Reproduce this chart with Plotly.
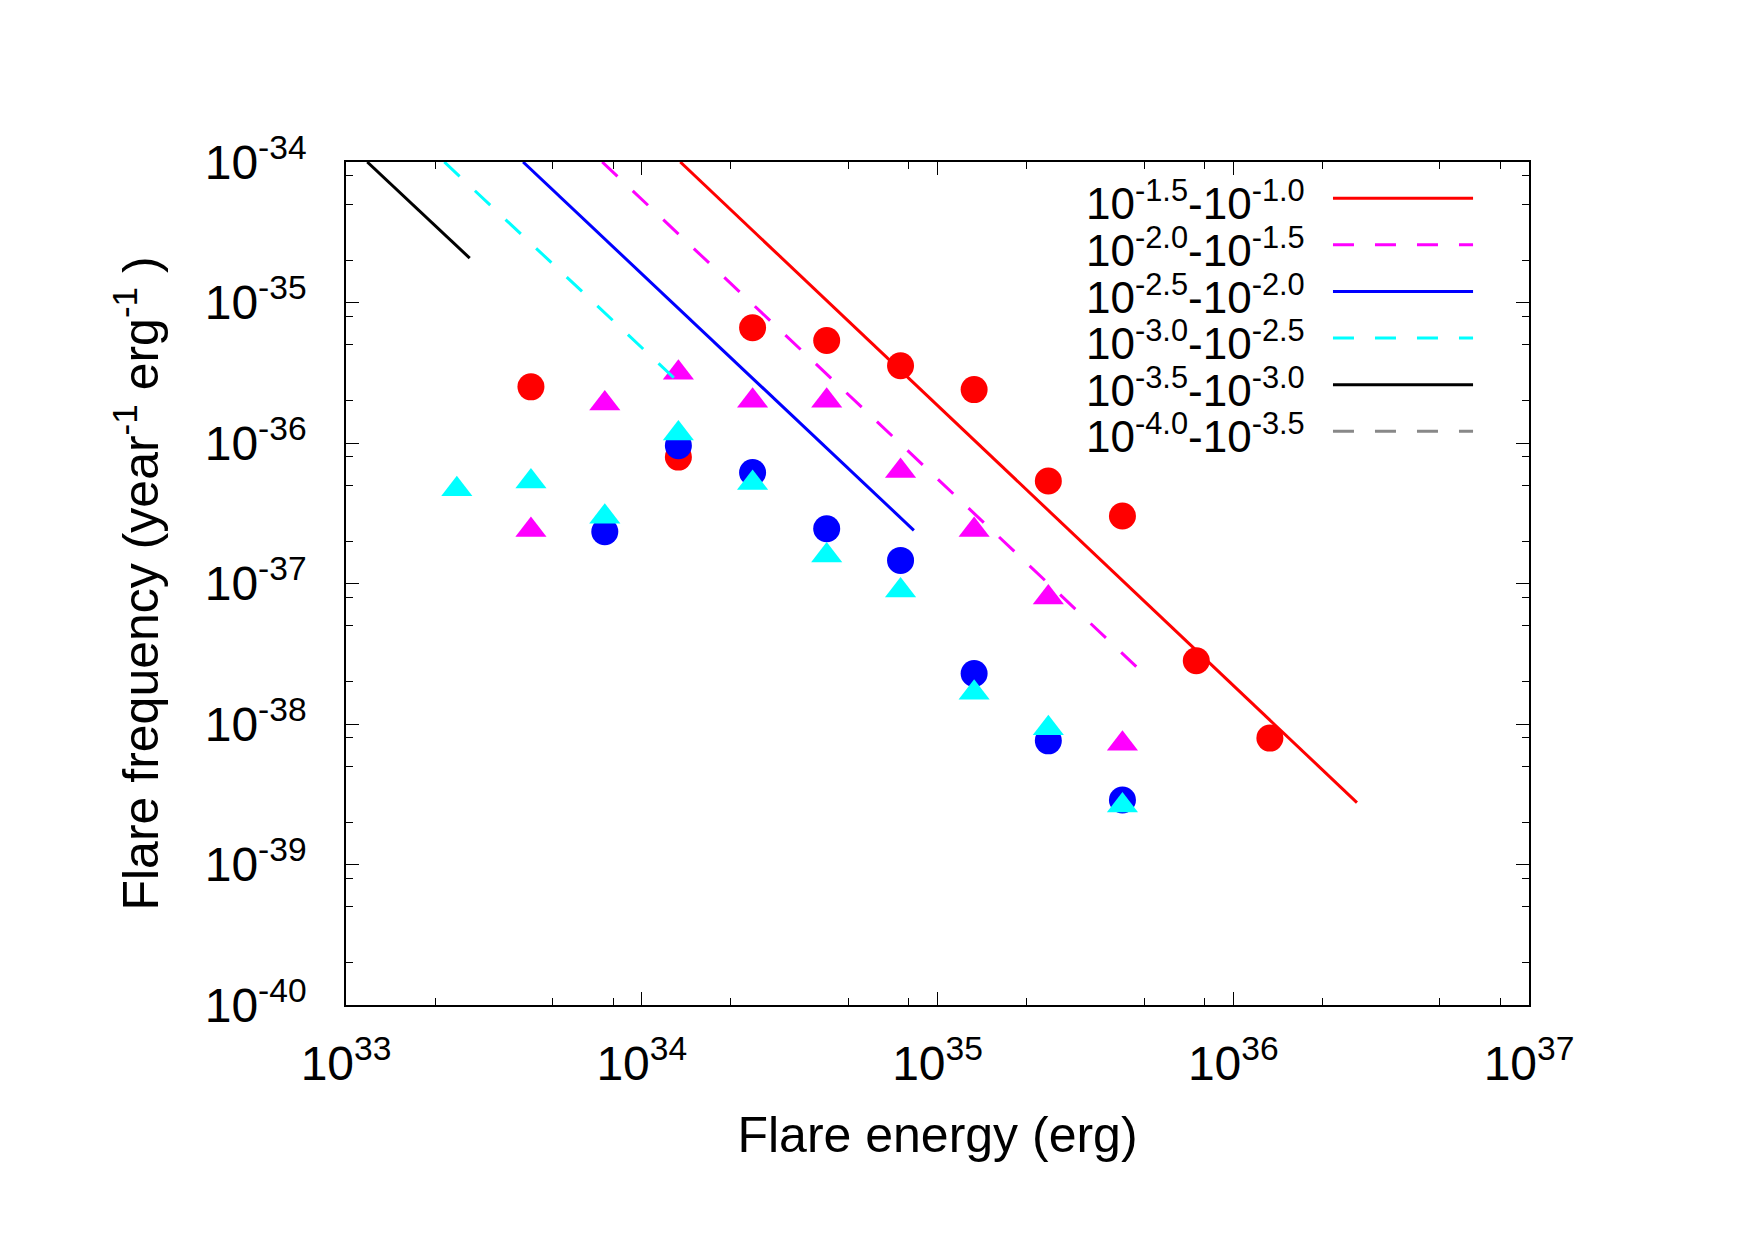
import plotly.graph_objects as go

# ---------------- data ----------------
energy_bins = [2.37e33, 4.22e33, 7.50e33, 1.33e34, 2.37e34, 4.22e34,
               7.50e34, 1.33e35, 2.37e35, 4.22e35, 7.50e35, 1.33e36]

red_energy = [4.22e33, 1.33e34, 2.37e34, 4.22e34, 7.50e34, 1.33e35,
              2.37e35, 4.22e35, 7.50e35, 1.33e36]
red_freq = [2.51e-36, 7.94e-37, 6.61e-36, 5.37e-36, 3.55e-36, 2.40e-36,
            5.37e-37, 3.02e-37, 2.82e-38, 7.94e-39]

magenta_energy = [4.22e33, 7.50e33, 1.33e34, 2.37e34, 4.22e34, 7.50e34,
                  1.33e35, 2.37e35, 4.22e35]
magenta_freq = [2.40e-37, 1.91e-36, 3.16e-36, 2.00e-36, 2.00e-36, 6.31e-37,
                2.40e-37, 7.94e-38, 7.24e-39]

blue_energy = [7.50e33, 1.33e34, 2.37e34, 4.22e34, 7.50e34, 1.33e35,
               2.37e35, 4.22e35]
blue_freq = [2.34e-37, 9.55e-37, 6.17e-37, 2.45e-37, 1.46e-37, 2.29e-38,
             7.59e-39, 2.88e-39]

cyan_energy = [2.37e33, 4.22e33, 7.50e33, 1.33e34, 2.37e34, 4.22e34,
               7.50e34, 1.33e35, 2.37e35, 4.22e35]
cyan_freq = [4.68e-37, 5.31e-37, 2.99e-37, 1.17e-36, 5.19e-37, 1.58e-37,
             8.91e-38, 1.67e-38, 9.33e-39, 2.63e-39]

# power-law fit lines (end points)
fit_red_E = [1.35e34, 2.62e36]
fit_red_F = [1.0e-34, 2.76e-39]
fit_magenta_E = [7.35e33, 4.70e35]
fit_magenta_F = [1.0e-34, 2.56e-38]
fit_blue_E = [3.97e33, 8.32e34]
fit_blue_F = [1.0e-34, 2.39e-37]
fit_cyan_E = [2.15e33, 1.30e34]
fit_cyan_F = [1.0e-34, 2.84e-36]
fit_black_E = [1.18e33, 2.62e33]
fit_black_F = [1.0e-34, 2.07e-35]
fit_gray_E = []
fit_gray_F = []

legend_labels = [
    "10<sup>-1.5</sup>-10<sup>-1.0</sup>",
    "10<sup>-2.0</sup>-10<sup>-1.5</sup>",
    "10<sup>-2.5</sup>-10<sup>-2.0</sup>",
    "10<sup>-3.0</sup>-10<sup>-2.5</sup>",
    "10<sup>-3.5</sup>-10<sup>-3.0</sup>",
    "10<sup>-4.0</sup>-10<sup>-3.5</sup>",
]
legend_colors = ["#ff0000", "#ff00ff", "#0000ff", "#00ffff", "#000000", "#888888"]
legend_dash = ["solid", "21px,21px", "solid", "21px,21px", "solid", "21px,21px"]

x_tickvals = [1e33, 1e34, 1e35, 1e36, 1e37]
x_ticktext = ["10<sup>33</sup>", "10<sup>34</sup>", "10<sup>35</sup>",
              "10<sup>36</sup>", "10<sup>37</sup>"]
y_tickvals = [1e-40, 1e-39, 1e-38, 1e-37, 1e-36, 1e-35, 1e-34]
y_ticktext = ["10<sup>-40</sup>", "10<sup>-39</sup>", "10<sup>-38</sup>",
              "10<sup>-37</sup>", "10<sup>-36</sup>", "10<sup>-35</sup>",
              "10<sup>-34</sup>"]

x_minor = [m * 10.0 ** d for d in range(33, 37) for m in (2, 5, 8)]
y_minor = [m * 10.0 ** d for d in range(-40, -34) for m in (2, 5, 8)]

FONT = "Liberation Sans, Arial, Helvetica, sans-serif"

fig = go.Figure()

# markers
fig.add_trace(go.Scatter(x=red_energy, y=red_freq, mode="markers",
                         marker=dict(symbol="circle", size=27, color="#ff0000", line=dict(width=0)),
                         showlegend=False, cliponaxis=False))
fig.add_trace(go.Scatter(x=magenta_energy, y=magenta_freq, mode="markers",
                         marker=dict(symbol="triangle-up", size=27, color="#ff00ff", line=dict(width=0)),
                         showlegend=False, cliponaxis=False))
fig.add_trace(go.Scatter(x=blue_energy, y=blue_freq, mode="markers",
                         marker=dict(symbol="circle", size=27, color="#0000ff", line=dict(width=0)),
                         showlegend=False, cliponaxis=False))
fig.add_trace(go.Scatter(x=cyan_energy, y=cyan_freq, mode="markers",
                         marker=dict(symbol="triangle-up", size=27, color="#00ffff", line=dict(width=0)),
                         showlegend=False, cliponaxis=False))

# fit lines
fits = [(fit_red_E, fit_red_F), (fit_magenta_E, fit_magenta_F), (fit_blue_E, fit_blue_F),
        (fit_cyan_E, fit_cyan_F), (fit_black_E, fit_black_F), (fit_gray_E, fit_gray_F)]
for (ex, fy), col, dash, lab in zip(fits, legend_colors, legend_dash, legend_labels):
    fig.add_trace(go.Scatter(x=ex, y=fy, mode="lines", name=lab,
                             line=dict(color=col, width=3, dash=dash),
                             showlegend=False))

# custom legend: text on the left, line sample on the right
row0 = 0.957
dy = 0.0553
for i, (lab, col, dash) in enumerate(zip(legend_labels, legend_colors, legend_dash)):
    yy = row0 - i * dy
    fig.add_annotation(x=0.812, y=yy - 0.003, xref="paper", yref="paper",
                       text=lab, showarrow=False, xanchor="right", yanchor="middle",
                       font=dict(family=FONT, size=44, color="black"))
    fig.add_shape(type="line", xref="paper", yref="paper",
                  x0=0.8343, x1=0.9527, y0=yy, y1=yy,
                  line=dict(color=col, width=3, dash=dash))

axis_common = dict(
    type="log",
    showline=True, linecolor="black", linewidth=1.5,
    mirror="ticks", ticks="inside", ticklen=13, tickwidth=1.2, tickcolor="black",
    showgrid=False, zeroline=False,
    tickfont=dict(family=FONT, size=48, color="black"),
)

fig.update_xaxes(
    **axis_common,
    range=[33, 37],
    tickmode="array", tickvals=x_tickvals, ticktext=x_ticktext,
    minor=dict(tickmode="array", tickvals=x_minor, ticks="inside", ticklen=7,
               tickwidth=1, tickcolor="black", showgrid=False),
    ticklabelstandoff=16,
    title=dict(text="Flare energy (erg)", font=dict(family=FONT, size=50, color="black"),
               standoff=28),
)
fig.update_yaxes(
    **axis_common,
    range=[-40, -34],
    tickmode="array", tickvals=y_tickvals, ticktext=y_ticktext,
    minor=dict(tickmode="array", tickvals=y_minor, ticks="inside", ticklen=7,
               tickwidth=1, tickcolor="black", showgrid=False),
    ticklabelstandoff=28,
    title=dict(text="Flare frequency (year<sup>-1</sup> erg<sup>-1</sup> )",
               font=dict(family=FONT, size=50, color="black"), standoff=30),
)

fig.update_layout(
    width=1754, height=1239,
    margin=dict(l=346, r=225, t=162, b=234, pad=0),
    paper_bgcolor="white", plot_bgcolor="white",
    font=dict(family=FONT, color="black"),
    showlegend=False,
)

fig.write_html("out.html")
